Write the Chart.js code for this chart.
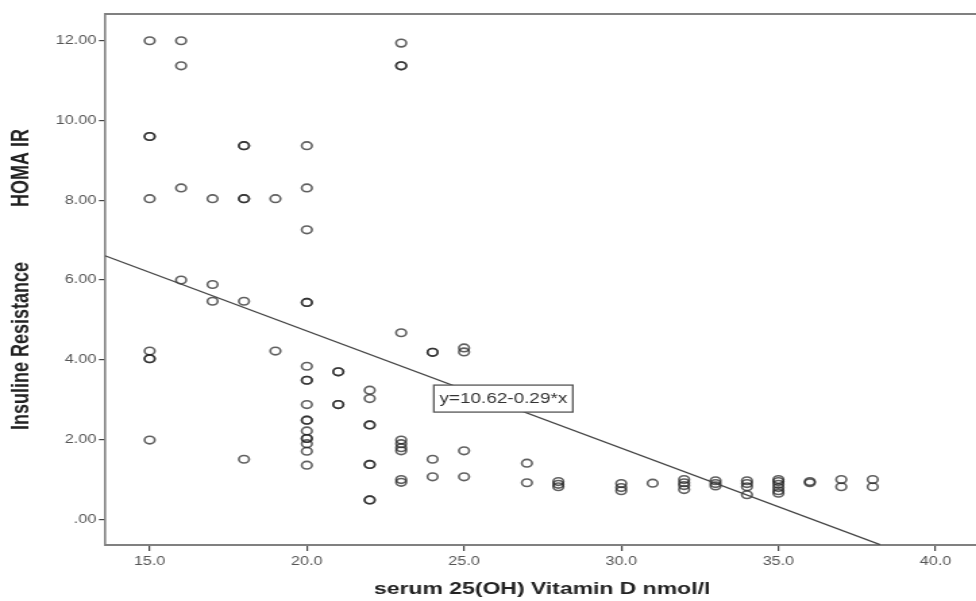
<!DOCTYPE html>
<html>
<head>
<meta charset="utf-8">
<script src="https://cdn.jsdelivr.net/npm/chart.js@4.4.0/dist/chart.umd.min.js"></script>
<style>
  html, body { margin: 0; padding: 0; background: #fff; overflow: hidden; width: 976px; height: 601px; }
  #wrap { width: 731px; height: 601px; transform: scaleX(1.35); transform-origin: 0 0; }
</style>
</head>
<body>
<div id="wrap"><canvas id="scatter" width="731" height="601"></canvas></div>
<script>
// serum 25(OH) vitamin D (nmol/l) and HOMA IR, one entry per subject
const vitD = [
    15, 15, 15, 15, 15, 15, 15, 15,
    16, 16, 16, 16,
    17, 17, 17,
    18, 18, 18, 18, 18, 18,
    19, 19,
    20, 20, 20, 20, 20, 20, 20, 20, 20, 20, 20, 20, 20, 20, 20, 20, 20,
    21, 21, 21, 21,
    22, 22, 22, 22, 22, 22, 22, 22,
    23, 23, 23, 23, 23, 23, 23, 23, 23, 23,
    24, 24, 24, 24,
    25, 25, 25, 25,
    27, 27,
    28, 28, 28,
    30, 30, 30,
    31,
    32, 32, 32, 32,
    33, 33, 33,
    34, 34, 34, 34,
    35, 35, 35, 35, 35, 35,
    36, 36,
    37, 37,
    38, 38
];
const homaIR = [
    12.00, 9.60, 9.60, 8.04, 4.22, 4.03, 4.03, 1.99,
    12.00, 11.37, 8.31, 6.00,
    8.04, 5.89, 5.47,
    9.37, 9.37, 8.04, 8.04, 5.47, 1.51,
    8.04, 4.22,
    9.37, 8.31, 7.26, 5.44, 5.44, 3.84, 3.49, 3.49, 2.88, 2.49, 2.49, 2.22, 2.03, 2.03, 1.90, 1.71, 1.36,
    3.70, 3.70, 2.88, 2.88,
    3.24, 3.03, 2.37, 2.37, 1.38, 1.38, 0.49, 0.49,
    11.94, 11.37, 11.37, 4.68, 1.99, 1.90, 1.80, 1.72, 1.00, 0.93,
    4.19, 4.19, 1.51, 1.07,
    4.30, 4.20, 1.72, 1.07,
    1.41, 0.92,
    0.95, 0.88, 0.82,
    0.90, 0.80, 0.72,
    0.91,
    1.00, 0.92, 0.85, 0.75,
    0.97, 0.90, 0.84,
    0.97, 0.90, 0.82, 0.62,
    1.00, 0.95, 0.88, 0.80, 0.72, 0.66,
    0.95, 0.92,
    1.00, 0.82,
    1.00, 0.82
];

// fit line y = 10.62 - 0.29x, end points as drawn
const fitX = [13.58, 38.23];
const fitY = [6.61, -0.63];
const fitLabel = 'y=10.62-0.29*x';
const fitLabelAt = { x: 26.25, y: 3.03 };

const xTicks = [15, 20, 25, 30, 35, 40];
const yTicks = [0, 2, 4, 6, 8, 10, 12];

const FONT = '"Liberation Sans", Arial, sans-serif';

// SPSS style frame line along the top of the plot
const framePlugin = {
    id: 'frame',
    afterDraw(chart) {
        const { ctx, chartArea: a } = chart;
        ctx.save();
        ctx.strokeStyle = '#808080';
        ctx.lineWidth = 2;
        ctx.beginPath();
        ctx.moveTo(a.left, a.top);
        ctx.lineTo(a.right, a.top);
        ctx.stroke();
        ctx.restore();
    }
};

// boxed equation label
const fitLabelPlugin = {
    id: 'fitLabel',
    afterDatasetsDraw(chart) {
        const { ctx, scales } = chart;
        const cx = scales.x.getPixelForValue(fitLabelAt.x);
        const cy = scales.y.getPixelForValue(fitLabelAt.y);
        const w = 103, h = 27;
        ctx.save();
        ctx.fillStyle = '#fff';
        ctx.fillRect(cx - w / 2, cy - h / 2, w, h);
        ctx.strokeStyle = '#555';
        ctx.lineWidth = 1.3;
        ctx.strokeRect(cx - w / 2, cy - h / 2, w, h);
        ctx.fillStyle = '#333';
        ctx.font = '14px ' + FONT;
        ctx.textAlign = 'center';
        ctx.textBaseline = 'middle';
        ctx.fillText(fitLabel, cx, cy + 1);
        ctx.restore();
    }
};

new Chart(document.getElementById('scatter'), {
    type: 'scatter',
    data: {
        datasets: [{
            type: 'line',
            data: fitX.map((x, i) => ({ x: x, y: fitY[i] })),
            borderColor: '#444',
            borderWidth: 1.3,
            pointRadius: 0,
            fill: false
        }, {
            data: vitD.map((x, i) => ({ x: x, y: homaIR[i] })),
            pointStyle: 'circle',
            pointRadius: 3.8,
            pointBorderWidth: 1.6,
            backgroundColor: 'rgba(0,0,0,0)',
            borderColor: 'rgba(35,35,35,0.72)'
        }]
    },
    options: {
        responsive: false,
        animation: false,
        layout: { padding: { top: 14, left: 0, right: 0, bottom: 0 } },
        plugins: { legend: { display: false }, tooltip: { enabled: false } },
        scales: {
            x: {
                type: 'linear',
                min: 13.58,
                max: 41.39,
                afterFit: s => { s.height = 56; },
                afterBuildTicks: s => { s.ticks = xTicks.map(v => ({ value: v })); },
                grid: { drawOnChartArea: false, drawTicks: true, tickLength: 6, color: '#444', lineWidth: 1.2 },
                border: { display: true, color: '#808080', width: 2 },
                ticks: {
                    color: '#555',
                    padding: 3,
                    font: { family: FONT, size: 12 },
                    callback: v => v.toFixed(1)
                },
                title: {
                    display: true,
                    text: 'serum 25(OH) Vitamin D nmol/l',
                    color: '#222',
                    font: { family: FONT, size: 17, weight: 'bold', lineHeight: 1.2 },
                    padding: { top: 0, bottom: 1 }
                }
            },
            y: {
                min: -0.64,
                max: 12.67,
                afterFit: s => { s.width = 77.8; },
                afterBuildTicks: s => { s.ticks = yTicks.map(v => ({ value: v })); },
                grid: { drawOnChartArea: false, drawTicks: true, tickLength: 4.5, color: '#444', lineWidth: 1.2 },
                border: { display: true, color: '#808080', width: 1.6 },
                ticks: {
                    color: '#555',
                    padding: 2,
                    font: { family: FONT, size: 12 },
                    callback: v => v === 0 ? '.00' : v.toFixed(2)
                },
                title: {
                    display: true,
                    text: 'Insuline Resistance           HOMA IR',
                    color: '#222',
                    font: { family: FONT, size: 18, weight: 'bold', lineHeight: 1.2 },
                    padding: { top: 5.5, bottom: 0 }
                }
            }
        }
    },
    plugins: [framePlugin, fitLabelPlugin]
});
</script>
</body>
</html>
